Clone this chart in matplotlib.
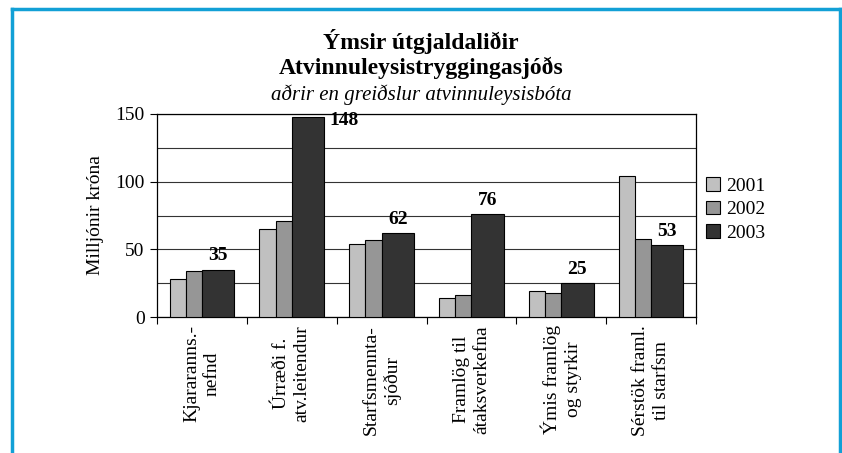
import matplotlib
matplotlib.use("Agg")
import matplotlib.pyplot as plt
import numpy as np
from matplotlib.lines import Line2D

categories = [
    "Kjararanns.-\nnefnd",
    "Úrræði f.\natv.leitendur",
    "Starfsmennta-\nsjóður",
    "Framlög til\nátaksverkefna",
    "Ýmis framlög\nog styrkir",
    "Sérstök framl.\ntil starfsm",
]
years = ["2001", "2002", "2003"]
values_2001 = [28, 65, 54, 14, 19, 104]
values_2002 = [34, 71, 57, 16, 18, 58]
values_2003 = [35, 148, 62, 76, 25, 53]

plt.rcParams["font.family"] = ["Liberation Serif", "DejaVu Serif"]

fig = plt.figure(figsize=(8.42, 4.53), dpi=100)
ax = fig.add_axes([157 / 842, 1 - 317 / 453, (696 - 157) / 842, (317 - 114) / 453])

x = np.arange(len(categories))
colors = ["#c0c0c0", "#969696", "#333333"]
# 2003 bar is twice as wide as the other two
lefts = [-0.36, -0.18, 0.0]
widths = [0.18, 0.18, 0.36]
series = [values_2001, values_2002, values_2003]

for i, vals in enumerate(series):
    ax.bar(x + lefts[i], vals, width=widths[i], align="edge", color=colors[i],
           edgecolor="black", linewidth=0.8, label=years[i], zorder=3)

# value labels on the 2003 series
for xi, v in zip(x, values_2003):
    if v + 10 > 150:
        ax.text(xi + 0.42, v - 3, str(v), ha="left", va="center",
                fontsize=14, fontweight="bold", zorder=4)
    else:
        ax.text(xi + 0.18, v + 4, str(v), ha="center", va="bottom",
                fontsize=14, fontweight="bold", zorder=4)

ax.set_xlim(-0.5, len(categories) - 0.5)
ax.set_ylim(0, 150)
ax.set_yticks([0, 50, 100, 150])
ax.set_yticks([25, 75, 125], minor=True)
ax.yaxis.grid(True, which="both", color="#333333", linewidth=0.8, zorder=0)
ax.tick_params(axis="y", which="major", labelsize=14, length=5, width=0.8,
               direction="out", pad=4)
ax.tick_params(axis="y", which="minor", length=0)

ax.set_xticks(np.arange(-0.5, len(categories)), minor=False)
ax.set_xticklabels([])
ax.tick_params(axis="x", length=5, width=0.8, direction="out")
for xi, lab in zip(x, categories):
    ax.text(xi, -0.04, lab, transform=ax.get_xaxis_transform(), rotation=90,
            ha="center", va="top", fontsize=14, multialignment="center",
            linespacing=1.25)

for s in ax.spines.values():
    s.set_linewidth(0.9)
    s.set_color("black")

ax.set_ylabel("Milljónir króna", fontsize=14, labelpad=8)

leg = ax.legend(loc="center left", bbox_to_anchor=(1.005, 0.53), frameon=False,
                fontsize=14, handlelength=0.7, handleheight=0.7,
                handletextpad=0.3, labelspacing=0.3, borderaxespad=0.0)

fig.text(0.5, 1 - 42 / 453, "Ýmsir útgjaldaliðir", ha="center", va="center",
         fontsize=17, fontweight="bold")
fig.text(0.5, 1 - 68 / 453, "Atvinnuleysistryggingasjóðs", ha="center", va="center",
         fontsize=17, fontweight="bold")
fig.text(0.5, 1 - 95 / 453, "aðrir en greiðslur atvinnuleysisbóta", ha="center",
         va="center", fontsize=15, style="italic")

# blue frame (left, top, right)
blue = "#12a0d6"
fx0, fx1, fy1 = 11.5 / 842, 839.5 / 842, 1 - 8.5 / 453
fig.add_artist(Line2D([fx0, fx0], [0, fy1], color=blue, linewidth=2.5, transform=fig.transFigure))
fig.add_artist(Line2D([fx0, fx1], [fy1, fy1], color=blue, linewidth=2.5, transform=fig.transFigure))
fig.add_artist(Line2D([fx1, fx1], [0, fy1], color=blue, linewidth=2.5, transform=fig.transFigure))

fig.savefig("out.png", dpi=100)
